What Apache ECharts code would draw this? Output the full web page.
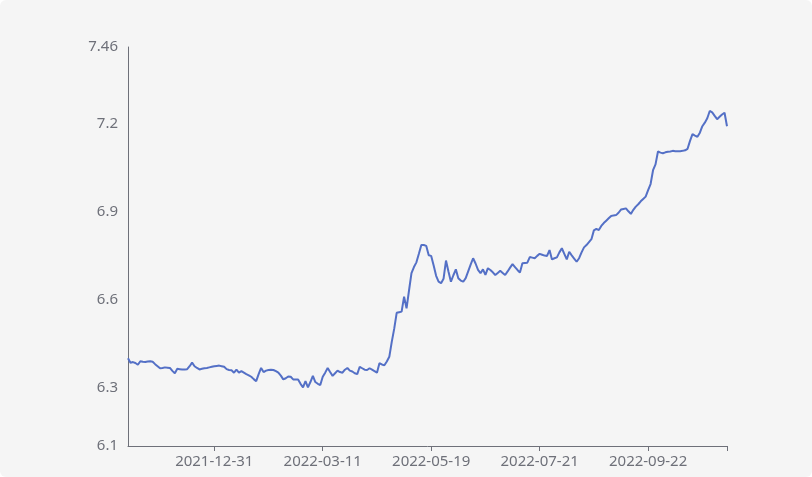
<!DOCTYPE html>
<html>
<head>
<meta charset="utf-8">
<script src="https://cdn.jsdelivr.net/npm/echarts@6/dist/echarts.min.js"></script>
<style>
  html, body { margin: 0; padding: 0; background: #ffffff; }
  #chart { width: 812px; height: 477px; background: #f5f5f5; border-radius: 6px; overflow: hidden; }
</style>
</head>
<body>
<div id="chart"></div>
<script>
// Trading days per month (day numbers)
const tradingDays = {
  "2021-11": [12, 15, 16, 17, 18, 19, 22, 23, 24, 25, 26, 29, 30],
  "2021-12": [1, 2, 3, 6, 7, 8, 9, 10, 13, 14, 15, 16, 17, 20, 21, 22, 23, 24, 27, 28, 29, 30, 31],
  "2022-01": [4, 5, 6, 7, 10, 11, 12, 13, 14, 17, 18, 19, 20, 21, 24, 25, 26, 27, 28],
  "2022-02": [7, 8, 9, 10, 11, 14, 15, 16, 17, 18, 21, 22, 23, 24, 25, 28],
  "2022-03": [1, 2, 3, 4, 7, 8, 9, 10, 11, 14, 15, 16, 17, 18, 21, 22, 23, 24, 25, 28, 29, 30, 31],
  "2022-04": [1, 6, 7, 8, 11, 12, 13, 14, 15, 18, 19, 20, 21, 22, 25, 26, 27, 28, 29],
  "2022-05": [5, 6, 9, 10, 11, 12, 13, 16, 17, 18, 19, 20, 23, 24, 25, 26, 27, 30, 31],
  "2022-06": [1, 2, 6, 7, 8, 9, 10, 13, 14, 15, 16, 17, 20, 21, 22, 23, 24, 27, 28, 29, 30],
  "2022-07": [1, 4, 5, 6, 7, 8, 11, 12, 13, 14, 15, 18, 19, 20, 21, 22, 25, 26, 27, 28, 29],
  "2022-08": [1, 2, 3, 4, 5, 8, 9, 10, 11, 12, 15, 16, 17, 18, 19, 22, 23, 24, 25, 26, 29, 30, 31],
  "2022-09": [1, 2, 5, 6, 7, 8, 9, 13, 14, 15, 16, 19, 20, 21, 22, 23, 26, 27, 28, 29, 30],
  "2022-10": [10, 11, 12, 13, 14, 17, 18, 19, 20, 21, 24, 25, 26, 27, 28, 31],
  "2022-11": [1, 2, 3, 4, 7, 8, 9, 10, 11, 14]
};

const rateValues = [
  6.399, 6.384, 6.386, 6.383, 6.377, 6.389, 6.387, 6.386, 6.388, 6.389,
  6.387, 6.379, 6.372, 6.365, 6.366, 6.368, 6.367, 6.366, 6.356, 6.348,
  6.363, 6.362, 6.361, 6.361, 6.362, 6.372, 6.384, 6.372, 6.366, 6.361,
  6.363, 6.365, 6.366, 6.368, 6.370, 6.372, 6.373, 6.374, 6.372, 6.370,
  6.362, 6.359, 6.358, 6.350, 6.360, 6.350, 6.355, 6.350, 6.345, 6.341,
  6.336, 6.328, 6.321, 6.345, 6.366, 6.352, 6.357, 6.359, 6.360, 6.359,
  6.355, 6.350, 6.340, 6.327, 6.331, 6.337, 6.336, 6.327, 6.327, 6.327,
  6.312, 6.300, 6.321, 6.300, 6.318, 6.339, 6.318, 6.312, 6.308, 6.336,
  6.350, 6.366, 6.352, 6.339, 6.348, 6.357, 6.352, 6.350, 6.360, 6.366,
  6.357, 6.354, 6.348, 6.345, 6.370, 6.365, 6.360, 6.359, 6.365, 6.360,
  6.355, 6.350, 6.382, 6.378, 6.375, 6.388, 6.404, 6.455, 6.500, 6.554,
  6.556, 6.558, 6.609, 6.569, 6.630, 6.689, 6.710, 6.726, 6.755, 6.785,
  6.785, 6.782, 6.750, 6.748, 6.715, 6.680, 6.660, 6.655, 6.670, 6.732,
  6.695, 6.660, 6.682, 6.702, 6.672, 6.664, 6.660, 6.672, 6.695, 6.718,
  6.740, 6.722, 6.700, 6.689, 6.702, 6.683, 6.706, 6.700, 6.692, 6.683,
  6.690, 6.697, 6.690, 6.683, 6.695, 6.708, 6.720, 6.710, 6.700, 6.691,
  6.723, 6.724, 6.725, 6.744, 6.742, 6.740, 6.748, 6.755, 6.752, 6.749,
  6.748, 6.768, 6.736, 6.740, 6.743, 6.760, 6.774, 6.755, 6.736, 6.762,
  6.750, 6.739, 6.728, 6.740, 6.760, 6.777, 6.785, 6.795, 6.805, 6.835,
  6.840, 6.836, 6.850, 6.860, 6.868, 6.876, 6.884, 6.886, 6.887, 6.895,
  6.906, 6.908, 6.910, 6.900, 6.891, 6.905, 6.916, 6.924, 6.934, 6.942,
  6.950, 6.972, 6.993, 7.040, 7.060, 7.104, 7.100, 7.098, 7.101, 7.103,
  7.104, 7.106, 7.105, 7.105, 7.105, 7.106, 7.108, 7.113, 7.140, 7.163,
  7.158, 7.154, 7.168, 7.190, 7.202, 7.217, 7.242, 7.237, 7.225, 7.214,
  7.222, 7.230, 7.236, 7.190
];

const yMin = 6.1;
const yMax = 7.46;
const firstLabelIndex = 35;
const labelStep = 44;

const categories = [];
Object.keys(tradingDays).forEach(function (ym) {
  tradingDays[ym].forEach(function (d) {
    categories.push(ym + '-' + (d < 10 ? '0' + d : '' + d));
  });
});

const lastIndex = rateValues.length - 1;
function isLabelIndex(i) {
  return i >= firstLabelIndex && (i - firstLabelIndex) % labelStep === 0;
}

const chart = echarts.init(document.getElementById('chart'), null, { renderer: 'canvas' });
chart.setOption({
  backgroundColor: 'transparent',
  animation: false,
  grid: { left: 128, right: 85, top: 47, bottom: 31, containLabel: false },
  xAxis: {
    type: 'category',
    boundaryGap: false,
    data: categories.slice(0, rateValues.length),
    axisLine: { show: true, lineStyle: { color: '#6e7079', width: 1 } },
    axisTick: {
      show: true,
      length: 5,
      interval: function (i) { return isLabelIndex(i) || i === lastIndex; },
      lineStyle: { color: '#6e7079' }
    },
    axisLabel: {
      interval: function (i) { return isLabelIndex(i); },
      color: '#6e7079',
      fontSize: 15,
      fontFamily: '"Noto Sans", sans-serif',
      margin: 8
    },
    splitLine: { show: false }
  },
  yAxis: {
    type: 'value',
    min: yMin,
    max: yMax,
    axisLine: { show: true, lineStyle: { color: '#6e7079', width: 1 } },
    axisTick: { show: false },
    axisLabel: {
      color: '#6e7079',
      fontSize: 15,
      fontFamily: '"Noto Sans", sans-serif',
      margin: 10
    },
    splitLine: { show: false }
  },
  series: [{
    type: 'line',
    data: rateValues,
    showSymbol: false,
    symbol: 'none',
    lineStyle: { color: '#5470c6', width: 2 },
    itemStyle: { color: '#5470c6' }
  }]
});
</script>
</body>
</html>
